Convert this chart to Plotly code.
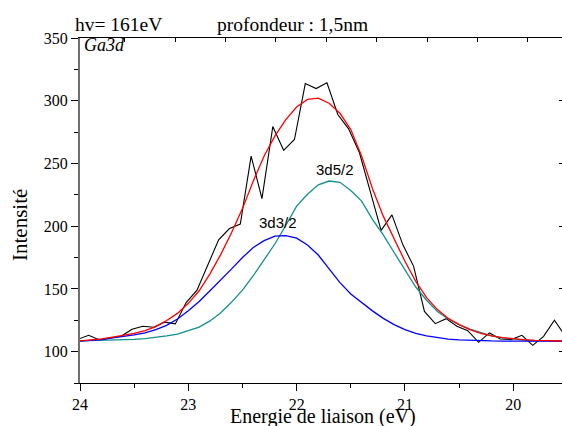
import plotly.graph_objects as go

# ---- data ----
energy = [24.02, 23.92, 23.82, 23.72, 23.62, 23.52, 23.42, 23.32, 23.22, 23.12,
          23.02, 22.92, 22.82, 22.72, 22.62, 22.52, 22.42, 22.32, 22.22, 22.12,
          22.02, 21.92, 21.82, 21.72, 21.62, 21.52, 21.42, 21.32, 21.22, 21.12,
          21.02, 20.92, 20.82, 20.72, 20.62, 20.52, 20.42, 20.32, 20.22, 20.12,
          20.02, 19.92, 19.82, 19.72, 19.62, 19.52]
intensity = [109.8, 113.0, 109.3, 110.8, 112.2, 117.9, 120.2, 119.4, 123.5, 122.1,
             139.1, 149.0, 169.4, 189.1, 198.1, 201.7, 255.9, 222.0, 279.4, 260.5,
             269.1, 313.7, 309.7, 314.3, 289.0, 277.6, 258.5, 227.6, 196.7, 209.0,
             185.3, 168.0, 132.1, 122.3, 126.3, 120.3, 116.7, 107.4, 114.9, 110.1,
             109.6, 113.0, 105.0, 112.2, 125.0, 112.4]

fit_energy = [24.0, 23.9, 23.8, 23.7, 23.6, 23.5, 23.4, 23.3, 23.2, 23.1,
              23.0, 22.9, 22.8, 22.7, 22.6, 22.5, 22.4, 22.3, 22.2, 22.1,
              22.0, 21.9, 21.8, 21.7, 21.6, 21.5, 21.4, 21.3, 21.2, 21.1,
              21.0, 20.9, 20.8, 20.7, 20.6, 20.5, 20.4, 20.3, 20.2, 20.1,
              20.0, 19.9, 19.8, 19.7, 19.6, 19.5]
fit_total = [108.5, 109.2, 110.2, 111.6, 113.0, 114.6, 116.8, 120.0, 124.8, 130.5,
             138.5, 148.5, 162.0, 177.5, 195.0, 214.0, 236.0, 256.0, 272.0, 285.0,
             295.0, 301.0, 302.0, 298.0, 290.0, 277.0, 256.0, 230.0, 208.0, 190.0,
             172.0, 156.0, 143.0, 133.5, 126.5, 121.5, 117.5, 114.5, 112.5, 111.2,
             110.2, 109.5, 109.0, 108.7, 108.5, 108.4]
fit_3d32 = [108.3, 108.8, 109.5, 110.9, 112.0, 113.3, 115.0, 117.5, 121.0, 126.0,
            132.5, 140.0, 148.5, 157.0, 166.0, 175.0, 183.0, 188.5, 192.0, 192.5,
            190.5, 185.0, 177.0, 166.0, 155.0, 146.0, 139.0, 132.5, 126.5, 121.5,
            117.5, 114.5, 112.5, 111.0, 110.0, 109.4, 109.0, 108.7, 108.5, 108.4,
            108.3, 108.3, 108.3, 108.3, 108.3, 108.3]
fit_3d52 = [108.5, 108.7, 109.0, 109.2, 109.5, 109.7, 110.3, 111.2, 112.5, 114.0,
            116.5, 119.5, 124.5, 131.0, 139.5, 149.0, 160.5, 173.5, 186.0, 200.5,
            216.0, 225.5, 233.0, 236.0, 235.0, 228.5, 220.0, 205.5, 193.0, 179.0,
            165.0, 151.5, 141.0, 132.0, 126.0, 121.5, 118.0, 115.0, 112.5, 111.0,
            110.0, 109.2, 108.8, 108.5, 108.3, 108.2]

x_ticks = [24, 23, 22, 21, 20]
y_ticks = [100, 150, 200, 250, 300, 350]

SERIF = "Liberation Serif"
SANS = "Liberation Sans"

fig = go.Figure()
fig.add_trace(go.Scatter(x=energy, y=intensity, mode="lines",
                         line=dict(color="#000000", width=1.1), name="data"))
fig.add_trace(go.Scatter(x=fit_energy, y=fit_3d52, mode="lines",
                         line=dict(color="#128f8f", width=1.3), name="3d5/2"))
fig.add_trace(go.Scatter(x=fit_energy, y=fit_3d32, mode="lines",
                         line=dict(color="#0000ff", width=1.3), name="3d3/2"))
fig.add_trace(go.Scatter(x=fit_energy, y=fit_total, mode="lines",
                         line=dict(color="#ff0000", width=1.3), name="fit"))
# helper trace so the decorative top/right axes are drawn
fig.add_trace(go.Scatter(x=[None], y=[None], xaxis="x2", yaxis="y2",
                         showlegend=False, hoverinfo="skip"))

fig.update_layout(
    width=562, height=426,
    margin=dict(l=80, r=0, t=38, b=43),
    paper_bgcolor="white", plot_bgcolor="white",
    showlegend=False,
    hovermode=False,
    font=dict(family=SERIF, color="black", size=16),
    xaxis=dict(range=[24, 19.55], tickvals=x_ticks, ticks="outside",
               ticklen=7, tickwidth=1, tickcolor="black",
               showline=True, linecolor="black", linewidth=1,
               showgrid=False, zeroline=False,
               tickfont=dict(family=SERIF, size=16),
               minor=dict(dtick=0.5, tick0=0, ticks="outside", ticklen=4,
                          tickcolor="black", showgrid=False)),
    yaxis=dict(range=[75, 350], tickvals=y_ticks, ticks="outside",
               ticklen=7, tickwidth=1, tickcolor="black",
               showline=True, linecolor="#707070", linewidth=2,
               showgrid=False, zeroline=False,
               tickfont=dict(family=SERIF, size=16),
               minor=dict(dtick=25, tick0=0, ticks="outside", ticklen=4,
                          tickcolor="black", showgrid=False)),
    xaxis2=dict(overlaying="x", side="top", range=[0, 482], tick0=95, dtick=50.4,
                ticks="inside", ticklen=4, tickcolor="black",
                showticklabels=False, showline=True, linecolor="black",
                linewidth=1, showgrid=False, zeroline=False),
    yaxis2=dict(overlaying="y", side="right", range=[75, 350], tickvals=y_ticks,
                ticks="inside", ticklen=3, tickcolor="black",
                showticklabels=False, showline=False, showgrid=False,
                zeroline=False),
    annotations=[
        dict(text="hv= 161eV", xref="paper", yref="paper", x=-0.0145, y=1.038,
             xanchor="left", yanchor="middle", showarrow=False,
             font=dict(family=SERIF, size=19.5)),
        dict(text="profondeur : 1,5nm", xref="paper", yref="paper", x=0.28,
             y=1.038, xanchor="left", yanchor="middle", showarrow=False,
             font=dict(family=SERIF, size=19.5)),
        dict(text="<i>Ga3d</i>", xref="paper", yref="paper", x=0.004, y=0.98,
             xanchor="left", yanchor="middle", showarrow=False,
             font=dict(family=SERIF, size=18)),
        dict(text="3d5/2", xref="x", yref="y", x=21.65, y=245,
             xanchor="center", yanchor="middle", showarrow=False,
             font=dict(family=SANS, size=15)),
        dict(text="3d3/2", xref="x", yref="y", x=22.17, y=203,
             xanchor="center", yanchor="middle", showarrow=False,
             font=dict(family=SANS, size=15)),
        dict(text="Energie de liaison (eV)", xref="paper", yref="paper",
             x=0.505, y=-0.0957, xanchor="center", yanchor="middle",
             showarrow=False, font=dict(family=SERIF, size=20)),
        dict(text="Intensité", xref="paper", yref="paper", x=-0.1245, y=0.458,
             xanchor="center", yanchor="middle", textangle=-90,
             showarrow=False, font=dict(family=SERIF, size=21)),
    ],
)

fig.write_html("out.html",
               config={"displayModeBar": False},
               post_script="document.body.style.margin='0px';"
                           "document.body.style.padding='0px';")
